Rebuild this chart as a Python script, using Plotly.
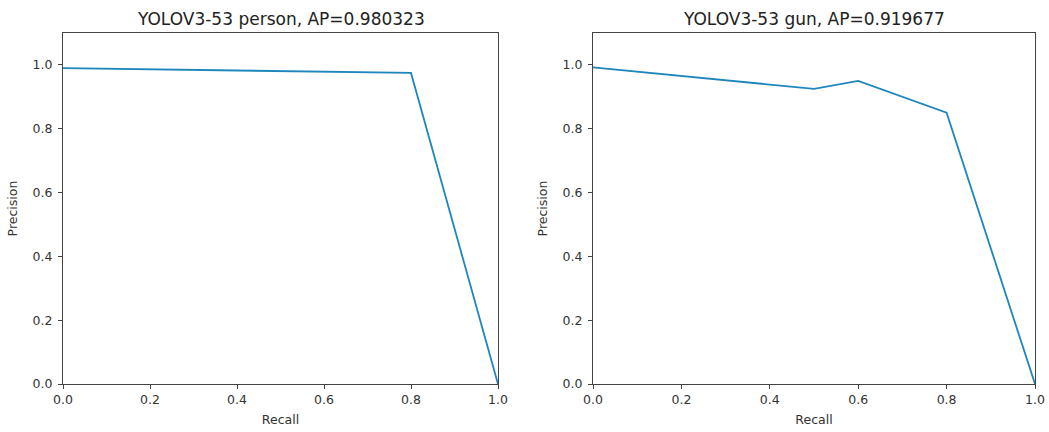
import plotly.graph_objects as go

person_recall = [0.0, 0.8, 1.0]
person_precision = [0.99, 0.975, 0.0]
gun_recall = [0.0, 0.5, 0.6, 0.8, 1.0]
gun_precision = [0.992, 0.925, 0.95, 0.85, 0.0]
titles = ["YOLOV3-53 person, AP=0.980323", "YOLOV3-53 gun, AP=0.919677"]
tick_vals = [0.0, 0.2, 0.4, 0.6, 0.8, 1.0]

line_color = "#1f86bd"
font_family = "DejaVu Sans, Arial, sans-serif"

W, H = 1049, 432


def px_x(x):
    return x / W


def px_y(y):
    return 1 - y / H


lx = [px_x(63), px_x(498)]
rx = [px_x(593), px_x(1035)]
yd = [px_y(384), px_y(33)]

fig = go.Figure()
fig.add_trace(go.Scatter(x=person_recall, y=person_precision, mode="lines",
                         line=dict(color=line_color, width=1.8), xaxis="x", yaxis="y",
                         showlegend=False))
fig.add_trace(go.Scatter(x=gun_recall, y=gun_precision, mode="lines",
                         line=dict(color=line_color, width=1.8), xaxis="x2", yaxis="y2",
                         showlegend=False))

axis_common = dict(showline=True, mirror=True, linecolor="#444444", linewidth=1.2,
                   showgrid=False, zeroline=False, ticks="outside", ticklen=4,
                   tickcolor="#444444", tickvals=tick_vals, tickformat=".1f",
                   automargin=False,
                   tickfont=dict(size=12.5, color="#333333", family=font_family))

xt = dict(text="Recall", font=dict(size=12.5), standoff=9)
yt = dict(text="Precision", font=dict(size=12.5), standoff=12)

fig.update_layout(
    width=W, height=H,
    paper_bgcolor="white", plot_bgcolor="white",
    margin=dict(l=0, r=0, t=0, b=0),
    font=dict(family=font_family, color="#333333"),
    xaxis=dict(domain=lx, range=[0, 1], anchor="y", title=xt, **axis_common),
    yaxis=dict(domain=yd, range=[0, 1.1], anchor="x", title=yt, ticklabelstandoff=3,
               **axis_common),
    xaxis2=dict(domain=rx, range=[0, 1], anchor="y2", title=xt, **axis_common),
    yaxis2=dict(domain=yd, range=[0, 1.1], anchor="x2", title=yt, ticklabelstandoff=3,
                **axis_common),
    annotations=[
        dict(text=titles[0], x=sum(lx) / 2, y=px_y(19), xref="paper", yref="paper",
             xanchor="center", yanchor="middle", showarrow=False,
             font=dict(size=17, color="#222222", family=font_family)),
        dict(text=titles[1], x=sum(rx) / 2, y=px_y(19), xref="paper", yref="paper",
             xanchor="center", yanchor="middle", showarrow=False,
             font=dict(size=17, color="#222222", family=font_family)),
    ],
)

fig.write_html(
    "out.html",
    config={"displayModeBar": False},
    post_script="document.body.style.margin='0';document.body.style.overflow='hidden';",
)
